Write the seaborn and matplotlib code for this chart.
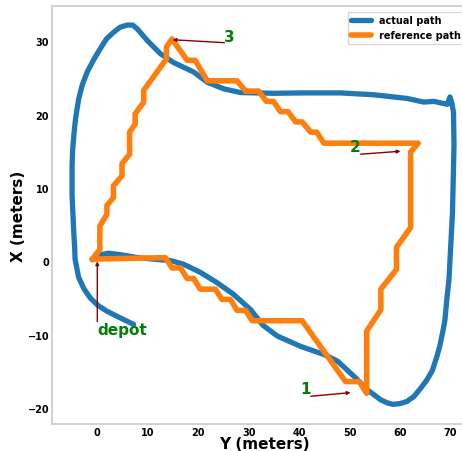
import matplotlib
matplotlib.use("Agg")
import matplotlib.pyplot as plt
import seaborn as sns
import pandas as pd

# actual path (horizontal = Y meters, vertical = X meters)
actual_y = [-1.0, 0.6, 2.2, 4.6, 8.0, 11.0, 14.5, 17.1, 20.4, 23.7, 27.0, 30.4, 32.8,
            35.7, 40.3, 44.9, 47.6, 50.9, 53.5, 56.2, 57.5, 58.6, 60.0, 61.4, 62.8,
            64.1, 65.3, 66.4, 67.3, 67.9, 68.5, 68.9, 69.3, 69.7, 70.4, 70.7, 70.6,
            70.3, 69.9, 69.6, 69.4, 66.7, 64.7, 61.4, 54.8, 48.2, 40.3, 35.0, 28.4,
            25.1, 21.8, 19.1, 15.1, 12.5, 9.9, 7.9, 7.0, 5.9, 4.5, 3.2, 1.8, 0.6,
            -0.7, -2.0, -3.0, -3.7, -4.3, -4.6, -4.9, -5.0, -5.0, -4.8, -4.7, -4.5,
            -4.4, -3.7, -2.6, -1.4, 0.1, 1.9, 4.5, 7.2]
actual_x = [0.2, 0.9, 1.1, 0.9, 0.5, 0.3, 0.1, -0.4, -1.5, -2.9, -4.5, -6.6, -8.7,
            -10.2, -11.6, -12.7, -13.6, -15.7, -17.5, -18.9, -19.3, -19.5, -19.4, -19.1, -18.4,
            -17.3, -16.2, -14.9, -13.0, -11.5, -9.5, -8.0, -5.0, -2.5, 6.65, 15.75, 20.3,
            21.5, 22.4, 21.8, 21.4, 21.8, 21.7, 22.2, 22.7, 22.95, 22.95, 22.9, 23.0,
            23.5, 24.4, 25.8, 27.1, 28.3, 30.1, 31.7, 32.2, 32.2, 31.9, 31.2, 30.3, 29.0,
            27.5, 25.8, 24.0, 22.1, 19.5, 17.6, 15.0, 13.0, 9.0, 6.0, 4.4, 2.0,
            0.27, -2.2, -3.8, -5.0, -6.0, -6.8, -7.7, -8.6]

# reference path
ref_y = [-1.0, 13.5, 14.8, 16.5, 17.8, 19.1, 20.4, 23.4, 24.7, 26.4, 27.7, 29.4, 30.7,
         40.6, 49.2, 51.9, 53.4, 53.4, 56.2, 56.2, 59.3, 59.3, 62.1, 62.1, 63.6, 44.9,
         43.5, 42.3, 40.6, 39.3, 37.8, 36.3, 34.9, 33.5, 32.0, 29.4, 27.7, 21.8, 19.4,
         17.8, 14.8, 13.7, 13.7, 9.2, 9.2, 7.5, 7.5, 6.4, 6.4, 4.9, 4.9, 3.2, 3.2, 1.9,
         1.9, 0.5, 0.5, -1.0]
ref_x = [0.3, 0.5, -0.9, -0.9, -2.35, -2.35, -3.8, -3.8, -5.2, -5.2, -6.7, -6.7, -8.1,
         -8.1, -16.4, -16.4, -18.0, -9.5, -6.6, -3.8, -1.1, 1.9, 4.6, 14.9, 16.1, 16.1,
         17.6, 17.6, 19.0, 19.0, 20.4, 20.4, 21.8, 21.8, 23.2, 23.2, 24.6, 24.6, 27.4,
         27.4, 30.3, 29.2, 27.6, 23.3, 21.7, 20.1, 18.7, 17.6, 14.6, 13.3, 11.65, 10.3,
         8.7, 7.6, 6.4, 4.8, 1.6, 0.3]

series_names = ["actual path", "reference path"]
tick_vals_x = [0, 10, 20, 30, 40, 50, 60, 70]
tick_vals_y = [-20, -10, 0, 10, 20, 30]

# annotations: (label, text pos, arrow start, arrow end)
labels = ["depot", "1", "2", "3"]
label_pos = [(0.0, -9.3), (41.3, -17.3), (51.2, 15.7), (26.2, 30.7)]
arrow_start = [(0.0, -8.2), (42.3, -18.4), (52.2, 14.6), (25.2, 29.8)]
arrow_end = [(0.0, 0.0), (50.2, -17.9), (60.1, 15.0), (14.9, 30.2)]

sns.set_theme(style="whitegrid")
plt.rcParams['font.family'] = ['DejaVu Sans']

fig = plt.figure(figsize=(4.62, 4.52), dpi=100)
ax = fig.add_axes([52/462, 27/452, (476-52)/462, (425-7)/452])

df_a = pd.DataFrame({"Y": actual_y, "X": actual_x})
df_r = pd.DataFrame({"Y": ref_y, "X": ref_x})
sns.lineplot(data=df_a, x="Y", y="X", sort=False, estimator=None, ax=ax,
             color="#1f77b4", linewidth=3.8, label=series_names[0],
             solid_joinstyle="round")
sns.lineplot(data=df_r, x="Y", y="X", sort=False, estimator=None, ax=ax,
             color="#ff7f0e", linewidth=4, label=series_names[1])

for lab, tp, s, e in zip(labels, label_pos, arrow_start, arrow_end):
    ax.annotate("", xy=e, xytext=s,
                arrowprops=dict(arrowstyle="-|>", color="darkred", lw=1,
                                mutation_scale=5, shrinkA=0, shrinkB=0))
    ha = "left" if lab == "depot" else "center"
    ax.text(tp[0], tp[1], lab, color="green", fontsize=11, fontweight="bold",
            ha=ha, va="center")

ax.set_xlim(-8.98, 75.06)
ax.set_ylim(-22.18, 34.8)
ax.set_xticks(tick_vals_x)
ax.set_yticks(tick_vals_y)
ax.grid(False)
ax.tick_params(length=0, pad=2, labelsize=7, labelcolor="black")
for t in ax.get_xticklabels() + ax.get_yticklabels():
    t.set_fontweight("bold")
for sp in ax.spines.values():
    sp.set_color("#cccccc")
ax.set_xlabel("Y (meters)", fontsize=11, fontweight="bold", color="black")
ax.set_ylabel("X (meters)", fontsize=11, fontweight="bold", color="black")
ax.xaxis.set_label_coords(0.5, -0.028)
ax.yaxis.set_label_coords(-0.062, 0.5)
leg = ax.legend(loc="upper left", prop={"weight": "bold", "size": 7},
                bbox_to_anchor=(347.5/462, 1 - 12.5/452),
                bbox_transform=fig.transFigure, borderaxespad=0)
for t in leg.get_texts():
    t.set_color("black")

fig.savefig("out.png", dpi=100)
